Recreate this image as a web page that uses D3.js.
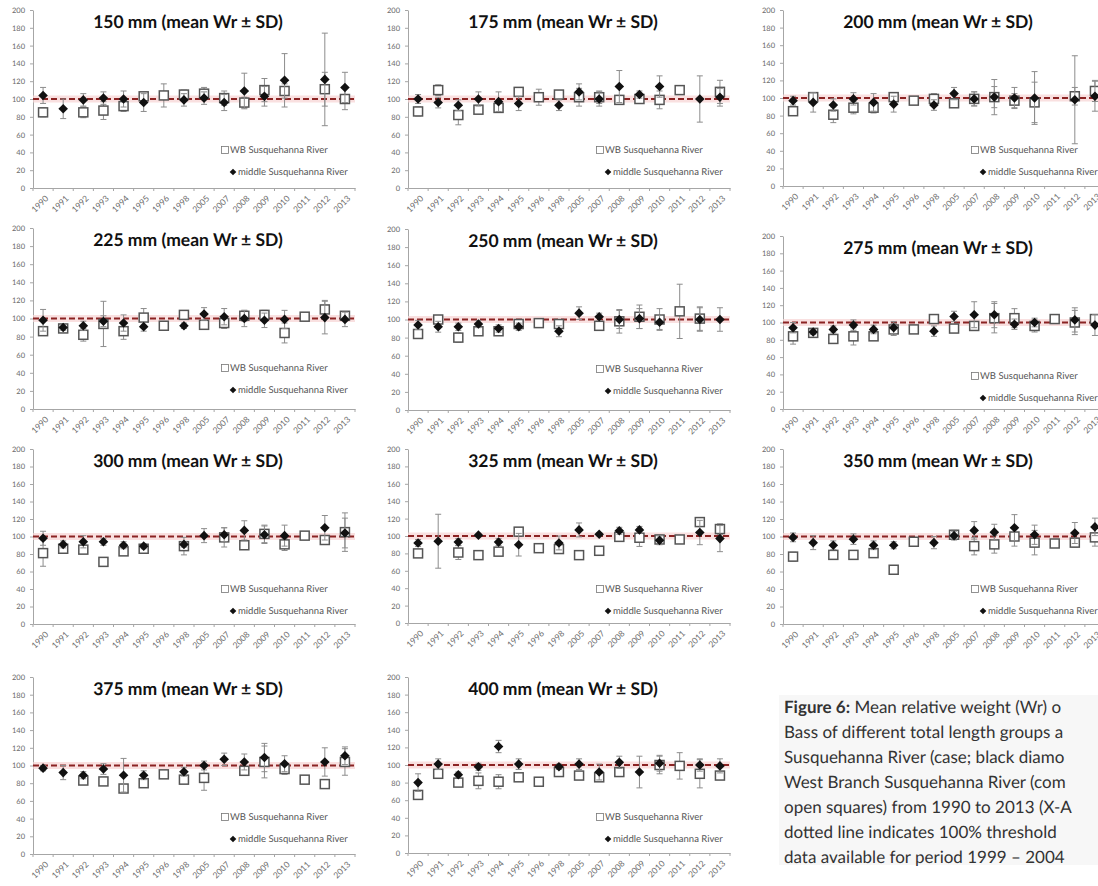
<!DOCTYPE html>
<html>
<head>
<meta charset="utf-8">
<script src="https://cdn.jsdelivr.net/npm/d3@7"></script>
<style>
  body { margin: 0; background: #fff; }
  svg { display: block; }
  text { text-rendering: geometricPrecision; }
</style>
</head>
<body>
<svg id="fig" width="1098" height="886"></svg>
<script>
// Sampling years (no data collected 1997, 1999-2004, 2006)
const years = ["1990","1991","1992","1993","1994","1995","1996","1998","2005","2007","2008","2009","2010","2011","2012","2013"];
const yTicks = [0, 20, 40, 60, 80, 100, 120, 140, 160, 180, 200];
const threshold = 100;
const seriesNames = ["WB Susquehanna River", "middle Susquehanna River"];

// Mean relative weight (Wr) and SD per length group.
// wb = West Branch (open squares), mid = middle Susquehanna (black diamonds)
const wb150    = [85, null, 85, 87, 92, 103, 104, 105, 106, 101, 96, 110, 109, null, 111, 100];
const wb150Sd  = [5, null, 6, 10, 6, 3, 13, 5, 7, 8, 6, 13, 8, null, 19, 12];
const mid150   = [104, 89, 99, 101, 100, 96, null, 99, 101, 96, 109, 103, 121, null, 122, 113];
const mid150Sd = [9, 11, 7, 7, 9, 10, null, 7, 7, 9, 20, 11, 30, null, 52, 17];

const wb175    = [86, 110, 82, 88, 90, 108, 102, 105, 102, 102, 99, 100, 99, 110, null, 108];
const wb175Sd  = [5, 6, 11, 4, 5, 4, 9, 3, 10, 7, 5, 3, 10, 2, null, 13];
const mid175   = [100, 96, 93, 100, 97, 95, null, 93, 108, 100, 114, 105, 114, null, 100, 102];
const mid175Sd = [5, 6, 6, 8, 11, 8, null, 6, 9, 8, 18, 4, 12, null, 26, 10];

const wb200    = [85, 101, 81, 89, 89, 101, 97, 99, 94, 99, 101, 97, 95, null, 102, 108];
const wb200Sd  = [4, 5, 9, 7, 6, 4, 2, 6, 4, 8, 20, 8, 23, null, 10, 12];
const mid200   = [97, 95, 92, 99, 95, 93, null, 92, 105, 99, 101, 100, 100, null, 98, 102];
const mid200Sd = [5, 11, 7, 7, 10, 9, null, 6, 7, 8, 12, 12, 30, null, 50, 17];

const wb225    = [86, 89, 82, 94, 86, 101, 92, 104, 93, 95, 103, 104, 84, 102, 110, 103];
const wb225Sd  = [4, 3, 7, 25, 9, 10, 2, 3, 3, 6, 6, 5, 11, 2, 10, 4];
const mid225   = [98, 90, 92, 97, 95, 91, null, 92, 105, 102, 100, 98, 99, null, 101, 99];
const mid225Sd = [12, 3, 5, 6, 9, 5, null, 3, 7, 9, 9, 8, 10, null, 18, 8];

const wb250    = [84, 100, 80, 87, 87, 95, 96, 95, null, 93, 98, 103, 100, 109, 101, null];
const wb250Sd  = [5, 3, 5, 4, 4, 4, 2, 3, null, 4, 13, 13, 12, 30, 13, null];
const mid250   = [94, 92, 92, 95, 90, 92, null, 87, 107, 103, 100, 101, 97, null, 100, 100];
const mid250Sd = [5, 6, 4, 4, 4, 4, null, 6, 7, 4, 10, 11, 8, null, 13, 13];

const wb275    = [84, 88, 81, 84, 84, 92, 92, 104, 93, 96, 105, 105, 96, 104, 100, 104];
const wb275Sd  = [9, 3, 5, 10, 4, 7, 2, 2, 2, 5, 17, 11, 7, 2, 14, 4];
const mid275   = [94, 89, 92, 97, 92, 94, null, 90, 107, 109, 109, 98, 100, null, 103, 97];
const mid275Sd = [6, 3, 4, 6, 5, 7, null, 6, 6, 15, 15, 6, 5, null, 14, 12];

const wb300    = [81, 86, 85, 71, 83, 86, null, 89, null, 99, 90, 103, 91, 101, 96, 105];
const wb300Sd  = [15, 3, 4, 2, 3, 3, null, 10, null, 11, 3, 10, 7, 3, 4, 22];
const mid300   = [98, 91, 94, 94, 90, 89, null, 91, 101, 102, 107, 102, 101, null, 110, 104];
const mid300Sd = [8, 4, 7, 4, 4, 3, null, 3, 8, 8, 11, 10, 12, null, 14, 17];

const wb325    = [80, null, 81, 78, 82, 105, 86, 85, 78, 83, 99, 98, 96, 96, 116, 108];
const wb325Sd  = [4, null, 8, 5, 4, 3, 5, 3, 3, 2, 3, 10, 5, 2, 4, 6];
const mid325   = [92, 94, 93, 101, 93, 90, null, 92, 107, 102, 106, 107, 95, null, 104, 97];
const mid325Sd = [4, 31, 4, 2, 4, 13, null, 8, 8, 2, 4, 4, 5, null, 14, 15];

const wb350    = [77, null, 79, 79, 81, 62, 94, null, 102, 89, 91, 100, 93, 92, 93, 99];
const wb350Sd  = [5, null, 3, 3, 3, 3, 2, null, 5, 10, 10, 11, 14, 3, 5, 10];
const mid350   = [99, 93, 90, 97, 90, 90, null, 93, 101, 107, 105, 110, 102, null, 104, 111];
const mid350Sd = [5, 8, 5, 6, 5, 4, null, 7, 5, 10, 9, 15, 11, null, 12, 10];

const wb375    = [null, null, 83, 82, 74, 80, 90, 84, 86, null, 94, 104, 96, 84, 79, 104];
const wb375Sd  = [null, null, 3, 3, 3, 3, 3, 3, 14, null, 5, 18, 6, 2, 3, 15];
const mid375   = [97, 92, 89, 96, 89, 89, null, 93, 100, 107, 104, 109, 102, null, 104, 111];
const mid375Sd = [3, 8, 4, 6, 19, 5, null, 5, 5, 7, 9, 16, 9, null, 16, 10];

const wb400    = [66, 90, 80, 82, 81, 86, 81, 92, 88, 86, 92, null, 100, 99, 90, 88];
const wb400Sd  = [3, 4, 4, 9, 8, 3, 2, 3, 3, 4, 4, null, 10, 15, 16, 3];
const mid400   = [80, 101, 89, 98, 121, 101, null, 98, 101, 92, 103, 92, 102, null, 100, 99];
const mid400Sd = [10, 6, 3, 4, 7, 6, null, 3, 6, 9, 7, 18, 9, null, 7, 8];

const panels = [
  { title: "150 mm (mean Wr \u00b1 SD)", wb: wb150, wbSd: wb150Sd, mid: mid150, midSd: mid150Sd },
  { title: "175 mm (mean Wr \u00b1 SD)", wb: wb175, wbSd: wb175Sd, mid: mid175, midSd: mid175Sd },
  { title: "200 mm (mean Wr \u00b1 SD)", wb: wb200, wbSd: wb200Sd, mid: mid200, midSd: mid200Sd },
  { title: "225 mm (mean Wr \u00b1 SD)", wb: wb225, wbSd: wb225Sd, mid: mid225, midSd: mid225Sd },
  { title: "250 mm (mean Wr \u00b1 SD)", wb: wb250, wbSd: wb250Sd, mid: mid250, midSd: mid250Sd },
  { title: "275 mm (mean Wr \u00b1 SD)", wb: wb275, wbSd: wb275Sd, mid: mid275, midSd: mid275Sd },
  { title: "300 mm (mean Wr \u00b1 SD)", wb: wb300, wbSd: wb300Sd, mid: mid300, midSd: mid300Sd },
  { title: "325 mm (mean Wr \u00b1 SD)", wb: wb325, wbSd: wb325Sd, mid: mid325, midSd: mid325Sd },
  { title: "350 mm (mean Wr \u00b1 SD)", wb: wb350, wbSd: wb350Sd, mid: mid350, midSd: mid350Sd },
  { title: "375 mm (mean Wr \u00b1 SD)", wb: wb375, wbSd: wb375Sd, mid: mid375, midSd: mid375Sd },
  { title: "400 mm (mean Wr \u00b1 SD)", wb: wb400, wbSd: wb400Sd, mid: mid400, midSd: mid400Sd }
];

const captionLines = [
  [["Figure 6:", true], [" Mean relative weight (Wr) o", false]],
  [["Bass of different total length groups a", false]],
  [["Susquehanna  River (case; black diamo", false]],
  [["West Branch Susquehanna  River (com", false]],
  [["open  squares) from 1990 to 2013  (X-A", false]],
  [["dotted  line indicates 100% threshold", false]],
  [["data available for period 1999 \u2013 2004", false]]
];

// ---- layout ----
const colX = [33, 408, 783];      // left edge (y axis) of each column
const plotW = 322;                // width of the category axis
const frames = [                  // pixel rows of the 200 and 0 gridline per panel
  { col: 0, top: 10,  bottom: 188 },
  { col: 1, top: 10,  bottom: 188 },
  { col: 2, top: 10,  bottom: 186 },
  { col: 0, top: 228, bottom: 409 },
  { col: 1, top: 229, bottom: 410 },
  { col: 2, top: 236, bottom: 409 },
  { col: 0, top: 449, bottom: 624 },
  { col: 1, top: 449, bottom: 623 },
  { col: 2, top: 449, bottom: 624 },
  { col: 0, top: 677, bottom: 854 },
  { col: 1, top: 677, bottom: 853 }
];

const axisColor = "#a6a6a6";
const tickTextColor = "#6b6b6b";
const errColor = "#8c8c8c";
const sqColor = "#555";
const lineRed = "#8b2323";
const smallFont = "Lato, 'Liberation Sans', sans-serif";

const svg = d3.select("#fig");

const diamondPath = d3.symbol().type(d3.symbolSquare).size(46)();
const legendDiamond = d3.symbol().type(d3.symbolSquare).size(22)();

panels.forEach((p, i) => {
  const f = frames[i];
  const x0 = colX[f.col];
  const x = d3.scaleBand().domain(years).range([x0, x0 + plotW]);
  const y = d3.scaleLinear().domain([0, 200]).range([f.bottom, f.top]);
  const g = svg.append("g");

  // y axis
  const ya = g.append("g")
    .attr("transform", `translate(${x0},0)`)
    .call(d3.axisLeft(y).tickValues(yTicks).tickSize(3).tickSizeOuter(0).tickPadding(5));
  ya.select(".domain").attr("stroke", axisColor);
  ya.selectAll(".tick line").attr("stroke", axisColor);
  ya.selectAll(".tick text")
    .attr("fill", tickTextColor)
    .style("font-family", smallFont)
    .style("font-size", "7.5px");

  // x axis (category ticks sit between years)
  const xa = g.append("g")
    .attr("transform", `translate(0,${f.bottom})`)
    .call(d3.axisBottom(x).tickSize(0).tickSizeOuter(0).tickPadding(0));
  xa.select(".domain").attr("stroke", axisColor);
  xa.selectAll(".tick text")
    .attr("y", 0).attr("dy", 0)
    .attr("text-anchor", "end")
    .attr("transform", "translate(6,11) rotate(-45)")
    .attr("fill", tickTextColor)
    .style("font-family", smallFont)
    .style("font-size", "8.5px");
  const edges = years.map(d => x(d)).concat([x0 + plotW]);
  xa.selectAll("line.edge").data(edges).join("line")
    .attr("class", "edge")
    .attr("x1", d => d).attr("x2", d => d)
    .attr("y1", 0).attr("y2", 3)
    .attr("stroke", axisColor);

  // 100 % reference line
  g.append("line")
    .attr("x1", x0).attr("x2", x0 + plotW)
    .attr("y1", y(threshold)).attr("y2", y(threshold))
    .attr("stroke", "#f7d4d4").attr("stroke-width", 7).attr("opacity", 0.7);
  g.append("line")
    .attr("x1", x0).attr("x2", x0 + plotW)
    .attr("y1", y(threshold)).attr("y2", y(threshold))
    .attr("stroke", lineRed).attr("stroke-width", 2)
    .attr("stroke-dasharray", "6,3");

  const cx = d => x(d.year) + x.bandwidth() / 2;

  function series(means, sds) {
    return years.map((yr, k) => ({ year: yr, v: means[k], sd: sds[k] }))
      .filter(d => d.v != null);
  }

  function errorBars(data) {
    const eg = g.append("g").attr("stroke", errColor).attr("stroke-width", 1);
    const withSd = data.filter(d => d.sd != null && d.sd > 0);
    eg.selectAll("line.v").data(withSd).join("line")
      .attr("x1", cx).attr("x2", cx)
      .attr("y1", d => y(d.v + d.sd)).attr("y2", d => y(d.v - d.sd));
    eg.selectAll("line.t").data(withSd).join("line")
      .attr("x1", d => cx(d) - 3).attr("x2", d => cx(d) + 3)
      .attr("y1", d => y(d.v + d.sd)).attr("y2", d => y(d.v + d.sd));
    eg.selectAll("line.b").data(withSd).join("line")
      .attr("x1", d => cx(d) - 3).attr("x2", d => cx(d) + 3)
      .attr("y1", d => y(d.v - d.sd)).attr("y2", d => y(d.v - d.sd));
  }

  // West Branch: open squares
  const wbData = series(p.wb, p.wbSd);
  errorBars(wbData);
  g.append("g").selectAll("rect").data(wbData).join("rect")
    .attr("x", d => cx(d) - 4.5).attr("y", d => y(d.v) - 4.5)
    .attr("width", 9).attr("height", 9)
    .attr("fill", "#fff").attr("stroke", sqColor).attr("stroke-width", 1.5);

  // middle Susquehanna: black diamonds
  const midData = series(p.mid, p.midSd);
  errorBars(midData);
  g.append("g").selectAll("path").data(midData).join("path")
    .attr("d", diamondPath)
    .attr("transform", d => `translate(${cx(d)},${y(d.v)}) rotate(45)`)
    .attr("fill", "#111");

  // legend
  const lx = x0 + 192;
  const ly1 = f.top + 140;
  const ly2 = f.top + 162;
  g.append("rect")
    .attr("x", lx - 3.5).attr("y", ly1 - 3.5).attr("width", 7).attr("height", 7)
    .attr("fill", "#fff").attr("stroke", "#777").attr("stroke-width", 0.8);
  g.append("text")
    .attr("x", lx + 5).attr("y", ly1).attr("dy", "0.35em")
    .attr("fill", "#555").style("font-family", smallFont).style("font-size", "9.5px")
    .text(seriesNames[0]);
  g.append("path")
    .attr("d", legendDiamond)
    .attr("transform", `translate(${lx + 8},${ly2}) rotate(45)`)
    .attr("fill", "#111");
  g.append("text")
    .attr("x", lx + 13).attr("y", ly2).attr("dy", "0.35em")
    .attr("fill", "#555").style("font-family", smallFont).style("font-size", "9.5px")
    .text(seriesNames[1]);

  // panel title
  g.append("text")
    .attr("x", x0 + 155).attr("y", f.top + 12).attr("dy", "0.35em")
    .attr("text-anchor", "middle")
    .attr("fill", "#111")
    .style("font-family", "Lato, 'Open Sans', sans-serif")
    .style("font-weight", "bold")
    .style("font-size", "17.5px")
    .text(p.title);
});

// caption
svg.append("rect")
  .attr("x", 779).attr("y", 695).attr("width", 319).attr("height", 170)
  .attr("fill", "#f7f7f7");
const cap = svg.append("text")
  .attr("fill", "#333")
  .style("font-family", "Lato, 'Open Sans', sans-serif")
  .style("font-size", "17px");
captionLines.forEach((parts, k) => {
  const line = cap.append("tspan").attr("x", 784).attr("y", 713 + k * 25);
  parts.forEach(([txt, bold]) => {
    line.append("tspan").style("font-weight", bold ? "bold" : "normal").text(txt);
  });
});
</script>
</body>
</html>
